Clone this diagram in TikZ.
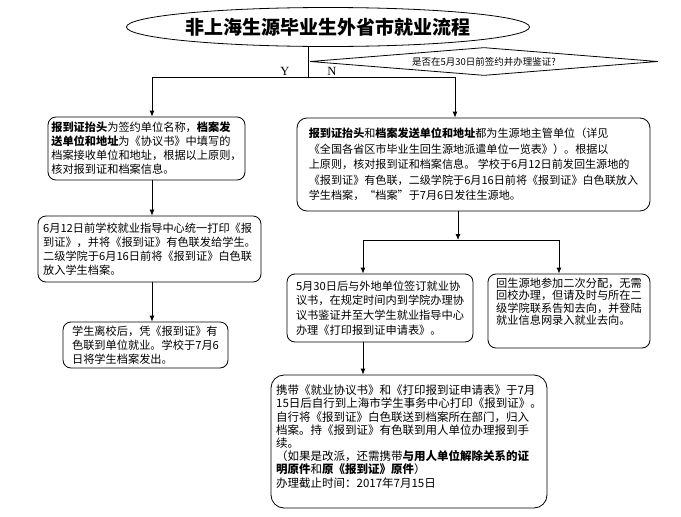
\documentclass[tikz,border=0pt]{standalone}
\usepackage{fontspec}
\setmainfont{Noto Sans CJK SC}
\newfontfamily\latinserif{Liberation Serif}
\usetikzlibrary{shapes.geometric,arrows.meta}

\begin{document}
\begin{tikzpicture}[x=1pt,y=-1pt,line width=0.8pt,
  arr/.style={-{Latex[length=6pt,width=5pt]}},
  stagebox/.style={draw,rounded corners=8pt,align=left,inner sep=0pt,font=\fontsize{11.2}{14}\selectfont},
  yn/.style={font=\latinserif\fontsize{12.5}{12.5}\selectfont,inner sep=0pt}]

\useasboundingbox (0,0) rectangle (681,517);

\node [draw,ellipse,minimum width=371,minimum height=39,inner sep=0pt,font=\fontsize{19}{19}\selectfont\bfseries] (title) at (328,27) {非上海生源毕业生外省市就业流程};

\node [draw,diamond,aspect=12.4,minimum width=348,minimum height=28,inner sep=0pt,font=\fontsize{9.5}{9.5}\selectfont] (ask) at (484,61.5) {是否在5月30日前签约并办理鉴证?};

\coordinate (split) at (308,77);
\coordinate (yes) at (152,77);
\coordinate (no) at (455,77);

\node [yn] (ylab) at (285,71) {Y};
\node [yn] (nlab) at (332,71) {N};

% left branch
\node [stagebox,minimum width=197,minimum height=63] (sign) at (146.5,148.5) {\textbf{报到证抬头}为签约单位名称，\textbf{档案发}\\
\textbf{送单位和地址}为《协议书》中填写的\\
档案接收单位和地址，根据以上原则，\\
核对报到证和档案信息。};

\node [stagebox,minimum width=223,minimum height=66] (print) at (149.5,249) {6月12日前学校就业指导中心统一打印《报\\
到证》，并将《报到证》有色联发给学生。\\
二级学院于6月16日前将《报到证》白色联\\
放入学生档案。};

\node [stagebox,minimum width=165,minimum height=46] (leave) at (145.5,345) {学生离校后，凭《报到证》有\\
色联到单位就业。学校于7月6\\
日将学生档案发出。};

% right branch
\node [stagebox,rounded corners=10pt,minimum width=353,minimum height=93,font=\fontsize{11.1}{15.5}\selectfont] (home) at (473.5,164.5) {\textbf{报到证抬头}和\textbf{档案发送单位和地址}都为生源地主管单位（详见\\
《全国各省区市毕业生回生源地派遣单位一览表》）。根据以\\
上原则，核对报到证和档案信息。 学校于6月12日前发回生源地的\\
《报到证》有色联，二级学院于6月16日前将《报到证》白色联放入\\
学生档案，“档案”于7月6日发往生源地。};

\coordinate (fork) at (458,240);
\coordinate (forkl) at (363,240);
\coordinate (forkr) at (559,240);

\node [stagebox,minimum width=186,minimum height=68,font=\fontsize{11.2}{14.7}\selectfont] (late) at (380,308) {5月30日后与外地单位签订就业协\\
议书，在规定时间内到学院办理协\\
议书鉴证并至大学生就业指导中心\\
办理《打印报到证申请表》。};

\node [stagebox,minimum width=162,minimum height=74,font=\fontsize{11.2}{12.5}\selectfont] (second) at (569,311) {回生源地参加二次分配，无需\\
回校办理，但请及时与所在二\\
级学院联系告知去向，并登陆\\
就业信息网录入就业去向。\rule[-19pt]{0pt}{0pt}};

\node [stagebox,rounded corners=13pt,minimum width=276,minimum height=133,font=\fontsize{11.5}{13.2}\selectfont] (center) at (409,441.5) {携带《就业协议书》和《打印报到证申请表》于7月\\
15日后自行到上海市学生事务中心打印《报到证》。\\
自行将《报到证》白色联送到档案所在部门，归入\\
档案。持《报到证》有色联到用人单位办理报到手\\
续。\\
（如果是改派，还需携带\textbf{与用人单位解除关系的证}\\
\textbf{明原件}和\textbf{原《报到证》原件}）\\
办理截止时间：2017年7月15日\rule[-11pt]{0pt}{0pt}};

% connectors
\draw (title.south -| split) -- (split);
\draw (yes) -- (no);
\draw [arr] (yes) -- (yes |- sign.north);
\draw [arr] (no) -- (no |- home.north);

\draw [arr] (sign.south -| yes) -- (print.north -| yes);
\draw [arr] (print.south -| yes) -- (leave.north -| yes);

\draw [arr] (home.south -| fork) -- (fork);
\draw (forkl) -- (forkr);
\draw [arr] (forkl) -- (forkl |- late.north);
\draw [arr] (forkr) -- (forkr |- second.north);
\draw [arr] (late.south -| forkl) -- (center.north -| forkl);

\end{tikzpicture}
\end{document}
